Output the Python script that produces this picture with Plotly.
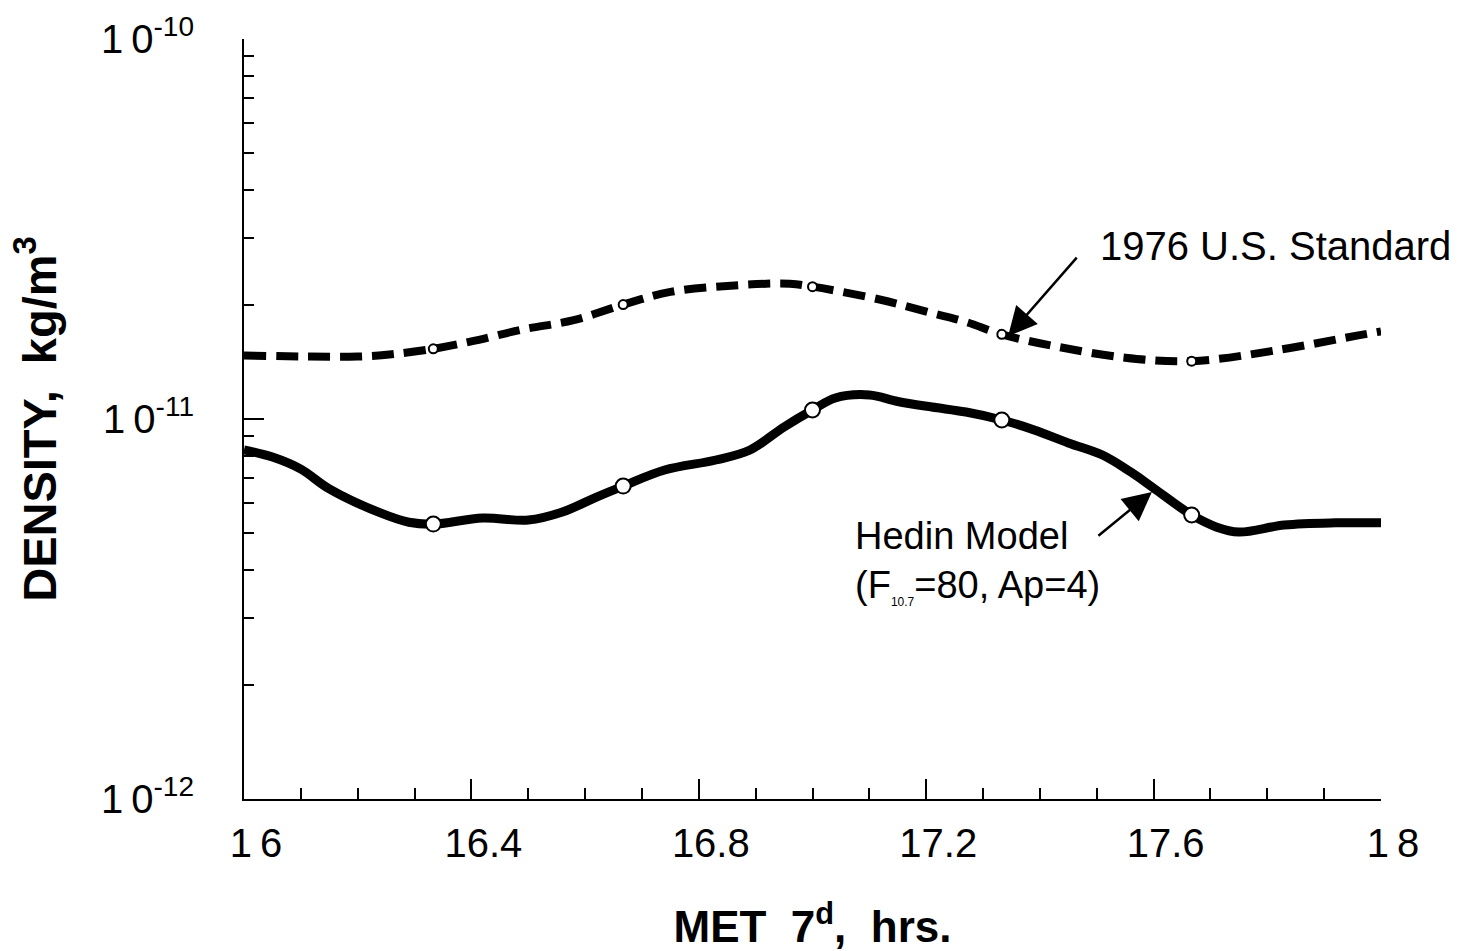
import plotly.graph_objects as go

FONT = "Liberation Sans, Arial, Helvetica, sans-serif"

# Hedin model density along the orbit (MET hours on day 7)
hedin_hrs = [16.00, 16.05, 16.10, 16.15, 16.24, 16.29, 16.333, 16.42, 16.50, 16.56,
             16.62, 16.667, 16.74, 16.83, 16.89, 16.95, 17.00, 17.04, 17.10, 17.15,
             17.21, 17.27, 17.333, 17.39, 17.45, 17.51, 17.56, 17.60, 17.667, 17.71,
             17.75, 17.83, 17.92, 18.00]
hedin_density = [8.29e-12, 7.94e-12, 7.38e-12, 6.55e-12, 5.66e-12, 5.35e-12, 5.29e-12,
                 5.49e-12, 5.42e-12, 5.69e-12, 6.23e-12, 6.66e-12, 7.34e-12, 7.80e-12,
                 8.29e-12, 9.53e-12, 1.056e-11, 1.136e-11, 1.157e-11, 1.112e-11,
                 1.075e-11, 1.043e-11, 9.94e-12, 9.36e-12, 8.65e-12, 8.04e-12, 7.25e-12,
                 6.58e-12, 5.59e-12, 5.20e-12, 5.04e-12, 5.26e-12, 5.33e-12, 5.33e-12]

# 1976 U.S. Standard Atmosphere density along the same track
std_hrs = [16.00, 16.11, 16.20, 16.26, 16.333, 16.40, 16.49, 16.58, 16.667, 16.75,
           16.87, 16.96, 17.00, 17.12, 17.21, 17.27, 17.333, 17.43, 17.55, 17.667,
           17.82, 17.96, 18.00]
std_density = [1.47e-11, 1.46e-11, 1.46e-11, 1.48e-11, 1.53e-11, 1.60e-11, 1.72e-11,
               1.82e-11, 2.00e-11, 2.16e-11, 2.25e-11, 2.27e-11, 2.23e-11, 2.06e-11,
               1.90e-11, 1.80e-11, 1.67e-11, 1.55e-11, 1.45e-11, 1.42e-11, 1.52e-11,
               1.66e-11, 1.70e-11]

# 20-minute sample points marked on each curve
marker_hrs = [16.333, 16.667, 17.000, 17.333, 17.667]
hedin_marker_density = [5.29e-12, 6.66e-12, 1.056e-11, 9.94e-12, 5.59e-12]
std_marker_density = [1.53e-11, 2.00e-11, 2.23e-11, 1.67e-11, 1.42e-11]

x_tick_vals = [16.0, 16.4, 16.8, 17.2, 17.6, 18.0]
x_tick_text = ["1\u20096", "16.4", "16.8", "17.2", "17.6", "1\u20098"]
y_tick_vals = [1e-12, 1e-11, 1e-10]
y_tick_text = ["1\u20090<sup>-12</sup>", "1\u20090<sup>-11</sup>", "1\u20090<sup>-10</sup>"]
y_minor_vals = [k * 10.0 ** e for e in (-12, -11) for k in range(2, 10)]

fig = go.Figure()

fig.add_trace(go.Scatter(
    x=std_hrs, y=std_density, mode="lines",
    line=dict(color="black", width=8, dash="22px,10px", shape="spline", smoothing=1.0),
    hoverinfo="skip"))
fig.add_trace(go.Scatter(
    x=hedin_hrs, y=hedin_density, mode="lines",
    line=dict(color="black", width=9, shape="spline", smoothing=1.0),
    hoverinfo="skip"))
fig.add_trace(go.Scatter(
    x=marker_hrs, y=std_marker_density, mode="markers",
    marker=dict(symbol="circle", size=9, color="white", line=dict(color="black", width=2))))
fig.add_trace(go.Scatter(
    x=marker_hrs, y=hedin_marker_density, mode="markers",
    marker=dict(symbol="circle", size=15, color="white", line=dict(color="black", width=2))))

annotations = [
    # labels
    dict(x=17.502, y=-10.545, xref="x", yref="y", text="1976 U.S. Standard",
         showarrow=False, xanchor="left", yanchor="middle",
         font=dict(family=FONT, size=40, color="black")),
    dict(x=17.071, y=-11.376, xref="x", yref="y",
         text="Hedin Model<br>(F<sub><span style='font-size:12px'>10.7</span></sub>=80, Ap=4)",
         showarrow=False, xanchor="left", yanchor="middle", align="left",
         font=dict(family=FONT, size=38, color="black")),
    # pointers
    dict(x=17.344, y=-10.782, xref="x", yref="y", text="", showarrow=True,
         ax=70, ay=-80, arrowhead=2, arrowsize=2.3, arrowwidth=2.5, arrowcolor="black"),
    dict(x=17.597, y=-11.192, xref="x", yref="y", text="", showarrow=True,
         ax=-55, ay=45, arrowhead=2, arrowsize=2.3, arrowwidth=2.5, arrowcolor="black"),
]

fig.update_layout(
    width=1461, height=951,
    margin=dict(l=244, r=80, t=39, b=152),
    paper_bgcolor="white", plot_bgcolor="white",
    showlegend=False,
    font=dict(family=FONT, color="black"),
    annotations=annotations,
    xaxis=dict(
        range=[16, 18], tickvals=x_tick_vals, ticktext=x_tick_text,
        ticks="inside", ticklen=20, tickwidth=2, tickcolor="black",
        minor=dict(tick0=16, dtick=0.1, ticks="inside", ticklen=11, tickwidth=2, tickcolor="black"),
        showline=True, linewidth=2, linecolor="black", mirror=False,
        showgrid=False, zeroline=False,
        tickfont=dict(family=FONT, size=40, color="black"),
        ticklabelstandoff=8, ticklabelshift=12,
        title=dict(text="<b>MET\u00a0 7<sup>d</sup>,\u00a0 hrs.</b>",
                   font=dict(family=FONT, size=44, color="black"), standoff=52),
        automargin=False,
    ),
    yaxis=dict(
        type="log", range=[-12, -10], tickvals=y_tick_vals, ticktext=y_tick_text,
        ticks="inside", ticklen=20, tickwidth=2, tickcolor="black",
        minor=dict(tickvals=y_minor_vals, ticks="inside", ticklen=10, tickwidth=2, tickcolor="black"),
        showline=True, linewidth=2, linecolor="black", mirror=False,
        showgrid=False, zeroline=False,
        tickfont=dict(family=FONT, size=40, color="black"),
        ticklabelstandoff=40,
        title=dict(text="<b>DENSITY,\u00a0 kg/m<sup>3</sup></b>",
                   font=dict(family=FONT, size=47, color="black"), standoff=30),
        automargin=False,
    ),
)

fig.write_html("out.html")
